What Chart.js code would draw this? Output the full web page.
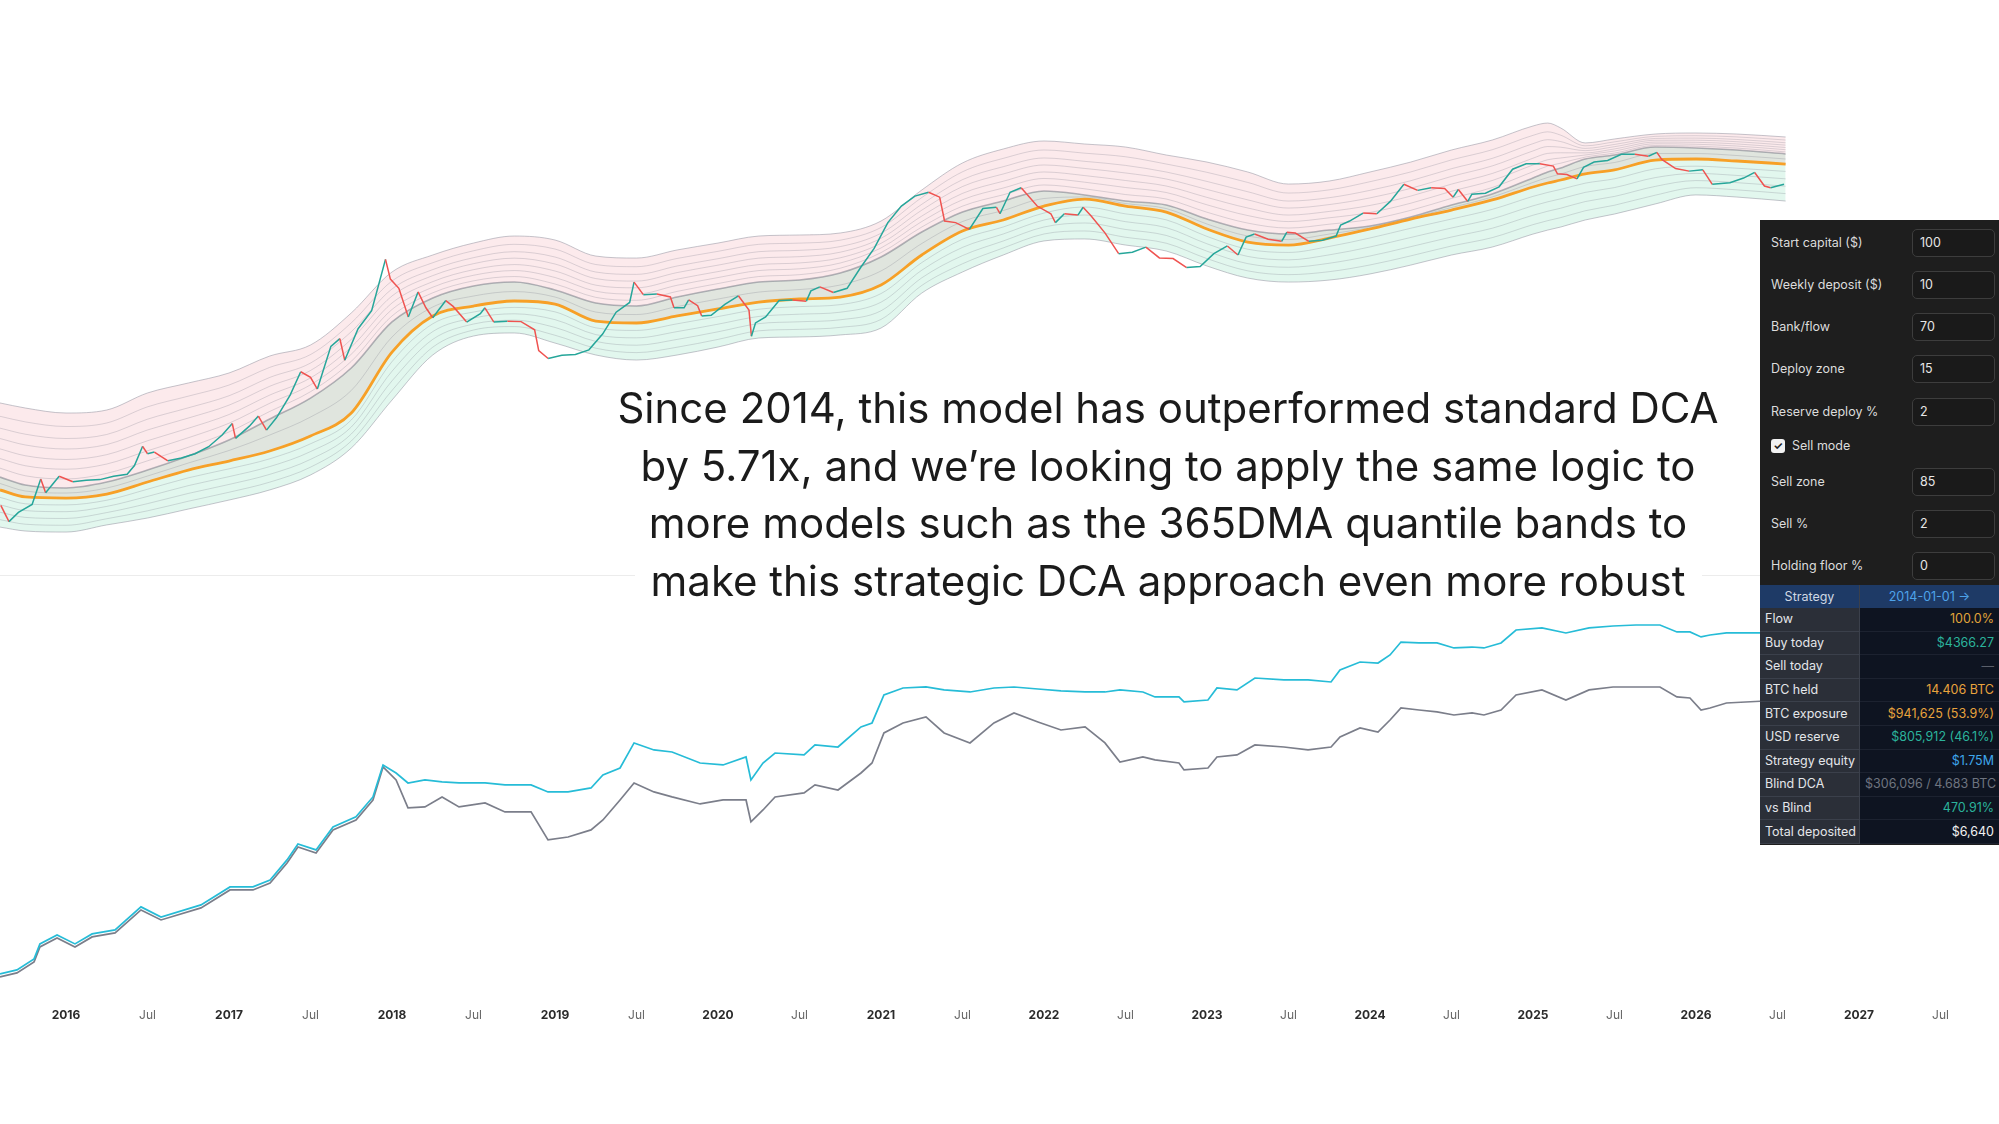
<!DOCTYPE html>
<html>
<head>
<meta charset="utf-8">
<script src="https://cdn.jsdelivr.net/npm/chart.js@4.4.1/dist/chart.umd.min.js"></script>
<style>
  html, body { margin: 0; padding: 0; background: #fff; }
  body { width: 1999px; height: 1124px; position: relative; overflow: hidden; font-family: Inter, "Noto Sans", sans-serif; }
  #topChart { position: absolute; left: 0; top: 0; }
  #bottomChart { position: absolute; left: 0; top: 575px; }
  #divider { position: absolute; left: 0; top: 575px; width: 1999px; height: 1px; background: #ececec; }
  #caption { position: absolute; left: 568px; top: 379px; width: 1200px; text-align: center;
             font-size: 42px; line-height: 57.5px; color: #1b1b1b; }
  #caption span { background: #fff; padding: 0 16px; }
  #panel { position: absolute; left: 1760px; top: 220px; width: 239px; height: 625px; background: #1e1e1e;
           font-size: 12.5px; color: #dcdcdc; }
  .field { position: absolute; left: 0; width: 239px; height: 28px; }
  .field span { position: absolute; left: 11px; line-height: 28px; }
  .box { position: absolute; left: 152px; width: 83px; height: 28px; box-sizing: border-box;
         border: 1px solid #3d3d3d; border-radius: 5px; background: #1a1a1a; padding-left: 7px;
         line-height: 26px; color: #e6e6e6; }
  .check { position: absolute; left: 11px; height: 14px; }
  .check i { position: absolute; left: 0; top: 0; width: 14px; height: 14px; border-radius: 3px; background: #f2f2f2;
             color: #1e1e1e; font-style: normal; font-size: 11px; line-height: 14px; text-align: center; font-weight: 700; }
  .check span { position: absolute; left: 21px; top: -1px; line-height: 16px; white-space: nowrap; }
  #stats { position: absolute; left: 0; top: 365px; width: 239px; border-collapse: collapse; table-layout: fixed; }
  #stats td { padding: 0 5px; height: 22.6px; line-height: 22px; white-space: nowrap; overflow: hidden; border-bottom: 1px solid #1c2230; }
  #stats td.k { width: 89px; background: #2b2f38; color: #e4e6ea; border-right: 1px solid #3b404b; border-bottom-color: #3b404b; }
  #stats td.v { background: #0e1421; text-align: right; }
  #stats tr.head td { height: 23px; background: #1e3a66; text-align: center; border-bottom: none; }
</style>
</head>
<body>
<canvas id="topChart" width="1999" height="575"></canvas>
<div id="divider"></div>
<canvas id="bottomChart" width="1999" height="448"></canvas>

<div id="caption">
  <span>Since 2014, this model has outperformed standard DCA</span><br>
  <span>by 5.71x, and we’re looking to apply the same logic to</span><br>
  <span>more models such as the 365DMA quantile bands to</span><br>
  <span>make this strategic DCA approach even more robust</span>
</div>

<div id="panel">
  <div class="field" style="top:9px"><span>Start capital ($)</span><div class="box">100</div></div>
  <div class="field" style="top:51px"><span>Weekly deposit ($)</span><div class="box">10</div></div>
  <div class="field" style="top:93px"><span>Bank/flow</span><div class="box">70</div></div>
  <div class="field" style="top:135px"><span>Deploy zone</span><div class="box">15</div></div>
  <div class="field" style="top:178px"><span>Reserve deploy %</span><div class="box">2</div></div>
  <div class="check" style="top:219px"><i>✓</i><span>Sell mode</span></div>
  <div class="field" style="top:248px"><span>Sell zone</span><div class="box">85</div></div>
  <div class="field" style="top:290px"><span>Sell %</span><div class="box">2</div></div>
  <div class="field" style="top:332px"><span>Holding floor %</span><div class="box">0</div></div>
  <table id="stats">
    <tr class="head"><td class="k" style="color:#cfd8e4">Strategy</td><td class="v" style="color:#4ea3ea;text-align:center">2014-01-01 →</td></tr>
    <tr><td class="k">Flow</td><td class="v" style="color:#e0a43a">100.0%</td></tr>
    <tr><td class="k">Buy today</td><td class="v" style="color:#2bb39b">$4366.27</td></tr>
    <tr><td class="k">Sell today</td><td class="v" style="color:#5a5f6a">—</td></tr>
    <tr><td class="k">BTC held</td><td class="v" style="color:#e8a33d">14.406 BTC</td></tr>
    <tr><td class="k">BTC exposure</td><td class="v" style="color:#e8a33d">$941,625 (53.9%)</td></tr>
    <tr><td class="k">USD reserve</td><td class="v" style="color:#2bb39b">$805,912 (46.1%)</td></tr>
    <tr><td class="k">Strategy equity</td><td class="v" style="color:#3ea6ec">$1.75M</td></tr>
    <tr><td class="k">Blind DCA</td><td class="v" style="color:#6e7480">$306,096 / 4.683 BTC</td></tr>
    <tr><td class="k">vs Blind</td><td class="v" style="color:#2bb39b">470.91%</td></tr>
    <tr><td class="k">Total deposited</td><td class="v" style="color:#f2f2f2">$6,640</td></tr>
  </table>
</div>

<script>
// time axis in decimal years
const xMin = 2015.595;
const xMax = 2027.859;

// BTC price (USD)
const priceDates = [
  2015.6, 2015.65, 2015.708, 2015.792, 2015.845, 2015.875, 2015.958,
  2016.042, 2016.125, 2016.208, 2016.292, 2016.375, 2016.42, 2016.47, 2016.5, 2016.542, 2016.625, 2016.708, 2016.792, 2016.875, 2016.958,
  2017.02, 2017.04, 2017.125, 2017.18, 2017.23, 2017.292, 2017.375, 2017.44, 2017.5, 2017.542, 2017.625, 2017.68, 2017.71, 2017.792, 2017.875, 2017.96, 2017.99,
  2018.042, 2018.10, 2018.16, 2018.208, 2018.25, 2018.33, 2018.375, 2018.458, 2018.542, 2018.57, 2018.625, 2018.708, 2018.792, 2018.875, 2018.9, 2018.958,
  2019.042, 2019.125, 2019.208, 2019.292, 2019.375, 2019.458, 2019.485, 2019.542, 2019.625, 2019.708, 2019.73, 2019.792, 2019.82, 2019.875, 2019.9, 2019.958,
  2020.042, 2020.125, 2020.19, 2020.205, 2020.23, 2020.292, 2020.375, 2020.458, 2020.542, 2020.57, 2020.625, 2020.708, 2020.792, 2020.875, 2020.958,
  2021.042, 2021.125, 2021.208, 2021.292, 2021.36, 2021.39, 2021.458, 2021.542, 2021.625, 2021.708, 2021.73, 2021.792, 2021.86, 2021.958,
  2022.042, 2022.07, 2022.125, 2022.208, 2022.24, 2022.292, 2022.375, 2022.458, 2022.542, 2022.625, 2022.708, 2022.792, 2022.875, 2022.958,
  2023.042, 2023.125, 2023.19, 2023.24, 2023.292, 2023.375, 2023.458, 2023.49, 2023.542, 2023.625, 2023.708, 2023.792, 2023.82, 2023.875, 2023.958,
  2024.042, 2024.125, 2024.208, 2024.292, 2024.375, 2024.458, 2024.51, 2024.542, 2024.6, 2024.625, 2024.708, 2024.792, 2024.875, 2024.958,
  2025.042, 2025.125, 2025.15, 2025.208, 2025.27, 2025.31, 2025.375, 2025.458, 2025.542, 2025.625, 2025.708, 2025.76, 2025.79, 2025.875, 2025.958,
  2026.042, 2026.10, 2026.208, 2026.292, 2026.36, 2026.42, 2026.458, 2026.54
];
const btcPrice = [
  265, 200, 235, 270, 420, 330, 440,
  400, 410, 415, 440, 455, 530, 740, 650, 670, 575, 605, 650, 735, 900,
  1100, 850, 1050, 1250, 980, 1220, 1800, 2700, 2450, 2000, 4200, 4800, 3300, 5700, 7800, 19000, 13500,
  11500, 7000, 10800, 8200, 6900, 9300, 8400, 6400, 7400, 8200, 6400, 6500, 6450, 5600, 3900, 3400,
  3600, 3650, 3950, 5200, 7600, 9000, 12800, 10300, 10400, 9900, 8200, 8200, 9400, 8500, 7100, 7200,
  8700, 10100, 7900, 5000, 6300, 7000, 9300, 9400, 9200, 11000, 11800, 10700, 11500, 16500, 23000,
  36000, 48000, 57000, 61000, 56000, 37000, 36000, 32000, 46000, 47000, 42000, 61000, 66000, 48000,
  42000, 36000, 42000, 41000, 47000, 40000, 30000, 21000, 21500, 23500, 19500, 19300, 16500, 16800,
  21000, 24000, 20500, 28000, 29500, 27000, 26000, 30500, 30000, 26000, 26500, 28500, 34500, 37000, 42500,
  42000, 52000, 70000, 63000, 66000, 65000, 56000, 64000, 52000, 59000, 60000, 67000, 91000, 100000,
  100000, 96000, 84000, 83000, 77000, 94000, 103000, 106000, 118000, 118000, 114000, 122000, 108000, 92000, 88000,
  90000, 70000, 72000, 78000, 86000, 68000, 66000, 70000
];

// 365DMA quantile band: outer edges, upper reference line and median (USD)
const bandDates = [
  2015.595, 2015.75, 2016.0, 2016.25, 2016.5, 2016.75, 2017.0, 2017.25, 2017.5, 2017.75,
  2018.0, 2018.25, 2018.5, 2018.75, 2019.0, 2019.25, 2019.5, 2019.75, 2020.0, 2020.25,
  2020.5, 2020.75, 2021.0, 2021.25, 2021.5, 2021.75, 2022.0, 2022.25, 2022.5, 2022.75,
  2023.0, 2023.25, 2023.5, 2023.75, 2024.0, 2024.25, 2024.5, 2024.75, 2025.0, 2025.09,
  2025.17, 2025.32, 2025.5, 2025.75, 2026.0, 2026.25, 2026.55
];
const bandTop = [
  1571, 1439, 1319, 1390, 1868, 2221, 2643, 3549, 4297, 7492,
  15270, 20510, 25240, 28510, 26600, 20130, 19450, 22390, 25240, 28510,
  29020, 30060, 36980, 63390, 101400, 129200, 148500, 140900, 133700, 116400,
  103000, 86700, 70300, 74100, 86700, 103000, 127000, 151000, 192700, 202800,
  186200, 143600, 153800, 167600, 170600, 167600, 159200
];
const bandUpper = [
  434, 378, 359, 398, 490, 625, 826, 1189, 1710, 2884,
  6412, 9727, 11970, 12820, 11170, 8913, 8453, 9886, 11350, 12820,
  13270, 15000, 19820, 30550, 43250, 52360, 62370, 58210, 52360, 48870,
  38280, 31620, 29510, 31620, 33960, 39720, 48870, 59160, 78160, 86700,
  92900, 108600, 116400, 133700, 131500, 127000, 118600
];
const bandMedian = [
  347, 307, 301, 323, 398, 490, 573, 682, 885, 1319,
  3802, 7112, 8453, 9226, 8750, 6514, 6295, 7112, 8035, 9057,
  9550, 9886, 12190, 20510, 31110, 37670, 47970, 54200, 47970, 43250,
  32210, 25700, 24380, 27540, 32210, 38280, 44770, 53330, 66830, 71600,
  75430, 83750, 89750, 106700, 108600, 104900, 99540
];
const bandBottom = [
  182, 170, 167, 189, 213, 249, 291, 347, 450, 718,
  1652, 3614, 5023, 5296, 4446, 3614, 3311, 3614, 4150, 4853,
  4943, 5117, 5768, 10590, 15270, 20510, 26180, 27100, 24380, 21980,
  16940, 13740, 12820, 13270, 14760, 17220, 20510, 23550, 29510, 31620,
  33340, 37670, 41780, 49770, 58210, 56110, 52360
];
// where the faint quantile lines sit (log fraction between their neighbours)
const upperLevels = [0.12, 0.25, 0.38, 0.52, 0.66, 0.82];
const midLevels = [0.5];
const lowerLevels = [0.2, 0.4, 0.6, 0.8];

// equity curves (USD)
const equityDates = [
  2015.595, 2015.699, 2015.804, 2015.840, 2015.945, 2016.055, 2016.160, 2016.301, 2016.460, 2016.583,
  2016.828, 2017.006, 2017.147, 2017.252, 2017.356, 2017.423, 2017.534, 2017.638, 2017.779, 2017.883,
  2017.945, 2018.025, 2018.098, 2018.202, 2018.307, 2018.411, 2018.571, 2018.693, 2018.853, 2018.957,
  2019.080, 2019.221, 2019.294, 2019.399, 2019.485, 2019.607, 2019.718, 2019.890, 2020.031, 2020.172,
  2020.202, 2020.276, 2020.350, 2020.528, 2020.595, 2020.736, 2020.877, 2020.945, 2021.018, 2021.135,
  2021.276, 2021.387, 2021.546, 2021.693, 2021.816, 2021.963, 2022.104, 2022.252, 2022.374, 2022.466,
  2022.607, 2022.681, 2022.828, 2022.859, 2023.006, 2023.061, 2023.184, 2023.294, 2023.472, 2023.620,
  2023.761, 2023.816, 2023.939, 2024.049, 2024.123, 2024.190, 2024.301, 2024.411, 2024.515, 2024.626,
  2024.699, 2024.804, 2024.896, 2025.055, 2025.202, 2025.344, 2025.491, 2025.632, 2025.779, 2025.883,
  2025.963, 2026.031, 2026.086, 2026.187, 2026.54
];
const strategyEquity = [
  360, 398, 523, 760, 951, 760, 975, 1077, 1910, 1486,
  2005, 3141, 3141, 3733, 6152, 9162, 7889, 13970, 17950, 29510,
  65460, 53580, 41780, 45080, 42850, 41780, 41780, 39810, 39810, 33420,
  33420, 36900, 51050, 60670, 113200, 95060, 90360, 68710, 65460, 79800,
  45080, 68710, 88100, 83950, 107600, 102300, 168700, 186200, 373300, 444600,
  456000, 423600, 402700, 444600, 456000, 433600, 413000, 402700, 402700, 423600,
  402700, 355600, 355600, 314100, 329600, 444600, 423600, 570200, 543300, 543300,
  516400, 696600, 849200, 827900, 1012000, 1396000, 1365000, 1365000, 1205000, 1233000,
  1205000, 1365000, 1884000, 1982000, 1750000, 1982000, 2080000, 2133000, 2133000, 1795000,
  1795000, 1585000, 1663000, 1750000, 1750000
];
const blindEquity = [
  334, 369, 486, 705, 881, 705, 904, 1000, 1771, 1380,
  1862, 2911, 2911, 3467, 5702, 8497, 7314, 12980, 16640, 27360,
  62230, 45080, 22440, 23010, 29510, 23010, 25420, 20320, 20320, 10120,
  10890, 12980, 16640, 27360, 41780, 33420, 29510, 24780, 27360, 27360,
  15850, 21330, 29510, 32580, 39810, 35080, 53580, 68710, 145200, 186200,
  216300, 145200, 113200, 186200, 238800, 191000, 156300, 168700, 113200, 70470,
  79800, 74130, 68710, 57810, 60670, 79800, 83950, 107600, 102300, 95060,
  102300, 131200, 164400, 148600, 200400, 270400, 257000, 244900, 227000, 238800,
  227000, 257000, 373300, 423600, 329600, 423600, 456000, 456000, 456000, 355600,
  346700, 257000, 270400, 306200, 329600
];

const pts = (xs, ys) => xs.map((x, i) => ({x: x, y: ys[i]}));
function logMix(a, b, f) {
  return bandDates.map((x, i) => ({x: x, y: Math.pow(10, Math.log10(a[i]) * (1 - f) + Math.log10(b[i]) * f)}));
}

function baseOptions(yMin, yMax, showX) {
  const x = {
    type: 'linear', min: xMin, max: xMax, bounds: 'ticks', display: showX,
    grid: {display: false, drawTicks: false}, border: {display: false},
    ticks: {
      stepSize: 0.5, includeBounds: false, autoSkip: false, maxRotation: 0, maxTicksLimit: 100, padding: 8,
      callback: v => {
        const frac = Math.round((v - Math.floor(v)) * 100) / 100;
        if (frac === 0) return String(Math.round(v));
        if (frac === 0.5) return 'Jul';
        return '';
      },
      font: c => ({family: 'Inter', size: 12, weight: (c.tick && Number.isInteger(c.tick.value)) ? '700' : '400'}),
      color: c => (c.tick && Number.isInteger(c.tick.value)) ? '#2b2b2b' : '#666'
    }
  };
  if (showX) x.afterFit = s => { s.height = 23; };
  return {
    responsive: false,
    animation: false,
    layout: {padding: 0},
    plugins: {legend: {display: false}, tooltip: {enabled: false}},
    elements: {point: {radius: 0, hoverRadius: 0}},
    scales: {
      x: x,
      y: {type: 'logarithmic', min: yMin, max: yMax, bounds: 'data', display: false}
    }
  };
}

// top pane: bands + price
const faint = data => ({data: data, borderColor: 'rgba(120,120,135,0.26)', borderWidth: 1, fill: false,
                        cubicInterpolationMode: 'monotone', order: 7});
const topSets = [
  {data: pts(bandDates, bandTop), borderColor: 'rgba(150,150,162,0.55)', borderWidth: 1,
   fill: {target: 2}, backgroundColor: 'rgba(236,128,140,0.17)', cubicInterpolationMode: 'monotone', order: 9},
  {data: pts(bandDates, bandUpper), borderColor: 'rgba(95,100,115,0.45)', borderWidth: 1.6, fill: false,
   cubicInterpolationMode: 'monotone', order: 6},
  {data: pts(bandDates, bandMedian), borderColor: '#f7a027', borderWidth: 2.8, fill: false,
   cubicInterpolationMode: 'monotone', order: 1},
  {data: pts(bandDates, bandBottom), borderColor: 'rgba(150,150,162,0.55)', borderWidth: 1,
   fill: {target: 1}, backgroundColor: 'rgba(60,200,140,0.15)', cubicInterpolationMode: 'monotone', order: 8}
];
upperLevels.forEach(f => topSets.push(faint(logMix(bandUpper, bandTop, f))));
midLevels.forEach(f => topSets.push(faint(logMix(bandMedian, bandUpper, f))));
lowerLevels.forEach(f => topSets.push(faint(logMix(bandMedian, bandBottom, f))));
topSets.push({
  data: pts(priceDates, btcPrice), borderWidth: 1.5, borderColor: '#26a69a', fill: false, order: 0,
  segment: {borderColor: c => c.p1.parsed.y >= c.p0.parsed.y ? '#26a69a' : '#ef5350'}
});

new Chart(document.getElementById('topChart'), {
  type: 'line',
  data: {datasets: topSets},
  options: baseOptions(79.2, 1718000, false)
});

// bottom pane: strategy vs blind DCA equity
new Chart(document.getElementById('bottomChart'), {
  type: 'line',
  data: {
    datasets: [
      {data: pts(equityDates, blindEquity), borderColor: '#7b7e8a', borderWidth: 1.7, fill: false, order: 2},
      {data: pts(equityDates, strategyEquity), borderColor: '#26bcd7', borderWidth: 1.7, fill: false, order: 1}
    ]
  },
  options: baseOptions(188, 7410000, true)
});
</script>
</body>
</html>
